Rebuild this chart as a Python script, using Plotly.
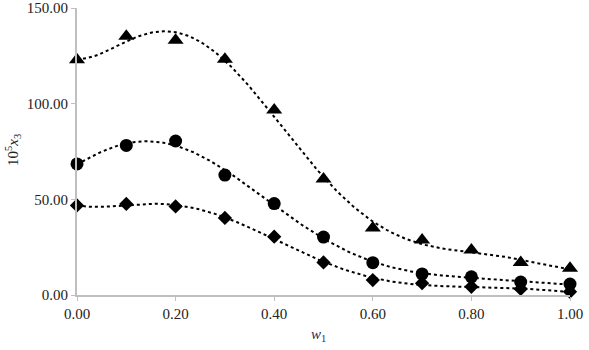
import numpy as np
import plotly.graph_objects as go

w1 = [0.0, 0.1, 0.2, 0.3, 0.4, 0.5, 0.6, 0.7, 0.8, 0.9, 1.0]
triangle_vals = [123.0, 135.2, 133.2, 123.2, 96.7, 60.6, 35.0, 28.7, 23.5, 17.0, 14.0]
circle_vals = [68.5, 78.2, 80.5, 62.7, 47.8, 30.3, 16.9, 11.0, 9.5, 6.8, 5.7]
diamond_vals = [46.8, 47.6, 46.3, 40.3, 30.5, 17.0, 7.8, 6.2, 4.3, 3.2, 1.7]
x_ticks = [0.0, 0.2, 0.4, 0.6, 0.8, 1.0]
y_ticks = [0.0, 50.0, 100.0, 150.0]

series = [
    (triangle_vals, "triangle-up", 14),
    (circle_vals, "circle", 13),
    (diamond_vals, "diamond", 11),
]

fig = go.Figure()
xs = np.linspace(0, 1, 201)
for vals, sym, size in series:
    coef = np.polyfit(w1, vals, 6)
    fig.add_trace(go.Scatter(x=xs, y=np.polyval(coef, xs), mode="lines",
                             line=dict(color="black", width=2, dash="dot"),
                             hoverinfo="skip", showlegend=False, cliponaxis=False))
    fig.add_trace(go.Scatter(x=w1, y=vals, mode="markers", cliponaxis=False,
                             marker=dict(symbol=sym, size=size, color="black"),
                             showlegend=False))

font = dict(family="Liberation Serif, Times New Roman, serif", size=15, color="#222222")
fig.update_layout(
    width=589, height=350,
    margin=dict(l=77, r=19, t=8, b=55, autoexpand=False),
    paper_bgcolor="white", plot_bgcolor="white",
    font=font,
    xaxis=dict(range=[0, 1], tickvals=x_ticks, tickformat=".2f",
               showgrid=False, zeroline=False, showline=True, automargin=False,
               linecolor="#bfbfbf", linewidth=2, ticks="outside",
               tickcolor="#bfbfbf", ticklen=4),
    yaxis=dict(range=[0, 150], tickvals=y_ticks, tickformat=".2f",
               showgrid=False, zeroline=False, showline=True, automargin=False,
               linecolor="#bfbfbf", linewidth=2, ticks="outside",
               tickcolor="#bfbfbf", ticklen=4),
    annotations=[
        dict(text="<i>w</i><sub>1</sub>", x=0.489, y=-0.14, xref="paper", yref="paper",
             showarrow=False, xanchor="center", yanchor="middle",
             font=dict(size=15, color="#2a2a5a")),
        dict(text="10<sup>5</sup><i>x</i><sub>3</sub>", x=-0.13, y=0.505,
             xref="paper", yref="paper", textangle=-90,
             showarrow=False, xanchor="center", yanchor="middle",
             font=dict(size=15, color="#222222")),
    ],
)
fig.write_html("out.html", config={"displayModeBar": False},
               post_script="document.body.style.margin='0';document.body.style.overflow='hidden';")
